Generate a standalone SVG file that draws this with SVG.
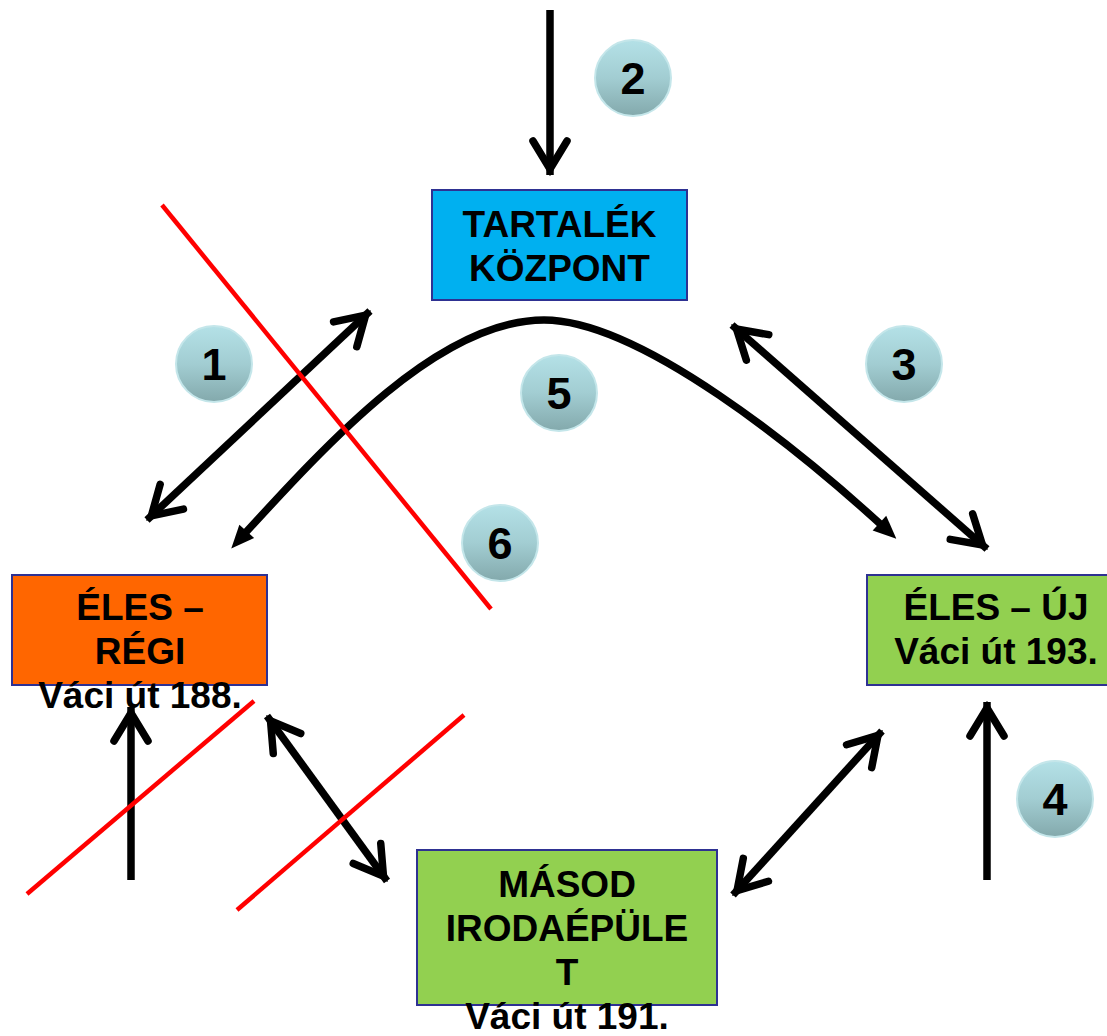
<svg xmlns="http://www.w3.org/2000/svg" width="1107" height="1036" viewBox="0 0 1107 1036">
  <style>
    .box { stroke: #2E3192; stroke-width: 2; }
    .lbl { font-family: "Liberation Sans", Arial, sans-serif; font-weight: bold; font-size: 37px; fill: #000; text-anchor: middle; }
    .num { font-family: "Liberation Sans", Arial, sans-serif; font-weight: bold; font-size: 45px; fill: #000; text-anchor: middle; }
    .badge { fill: url(#badgeFill); stroke: #C4E6EA; stroke-width: 2; }
    .link { fill: none; stroke: #000; stroke-width: 7.5; }
    .cross { stroke: #FF0000; stroke-width: 4.5; }
  </style>
  <defs>
    <linearGradient id="badgeFill" x1="0" y1="0" x2="0" y2="1">
      <stop offset="0" stop-color="#B4E1E7"/>
      <stop offset="0.5" stop-color="#A2CDD2"/>
      <stop offset="1" stop-color="#83A9AC"/>
    </linearGradient>
    <!-- open V head drawn with a stroke -->
    <marker id="open" markerUnits="userSpaceOnUse" viewBox="-40 -25 50 50" markerWidth="50" markerHeight="50" refX="0" refY="0" orient="auto-start-reverse" overflow="visible">
      <path d="M-34,-17 L-6,0 L-34,17" fill="none" stroke="#000" stroke-width="7.5" stroke-linecap="round" stroke-linejoin="miter"/>
    </marker>
    <!-- filled triangle head -->
    <marker id="tri" markerUnits="userSpaceOnUse" viewBox="-20 -15 35 30" markerWidth="35" markerHeight="30" refX="0" refY="0" orient="auto-start-reverse" overflow="visible">
      <path d="M10,0 L-13,-10 L-13,10 Z" fill="#000"/>
    </marker>
  </defs>

  <!-- sites -->
  <g id="node-tartalek">
    <rect class="box" x="432" y="190" width="255" height="110" fill="#00B0F0"/>
    <text class="lbl" x="559.5" y="237">TARTALÉK</text>
    <text class="lbl" x="559.5" y="281">KÖZPONT</text>
  </g>
  <g id="node-eles-regi">
    <rect class="box" x="12" y="575" width="255" height="110" fill="#FF6600"/>
    <text class="lbl" x="140" y="620">ÉLES –</text>
    <text class="lbl" x="140" y="664">RÉGI</text>
    <text class="lbl" x="140" y="708">Váci út 188.</text>
  </g>
  <g id="node-eles-uj">
    <rect class="box" x="867" y="575" width="262" height="110" fill="#92D050"/>
    <text class="lbl" x="996" y="620">ÉLES – ÚJ</text>
    <text class="lbl" x="996" y="664">Váci út 193.</text>
  </g>
  <g id="node-masod">
    <rect class="box" x="417" y="850" width="300" height="155" fill="#92D050"/>
    <text class="lbl" x="567" y="897">MÁSOD</text>
    <text class="lbl" x="567" y="941">IRODAÉPÜLE</text>
    <text class="lbl" x="567" y="985">T</text>
    <text class="lbl" x="567" y="1029">Váci út 191.</text>
  </g>

  <!-- links between sites -->
  <g id="connectors">
    <line class="link" x1="147" y1="520" x2="370" y2="311" marker-start="url(#open)" marker-end="url(#open)"/>
    <line class="link" x1="550" y1="10" x2="550" y2="175" marker-end="url(#open)"/>
    <line class="link" x1="732" y1="325" x2="987" y2="549" marker-start="url(#open)" marker-end="url(#open)"/>
    <path class="link" d="M238,541 C330,440 440,320 544,320 C640,320 800,450 889,532" marker-start="url(#tri)" marker-end="url(#tri)"/>
    <line class="link" x1="131" y1="880" x2="131" y2="707" marker-end="url(#open)"/>
    <line class="link" x1="267" y1="716" x2="387" y2="881" marker-start="url(#open)" marker-end="url(#open)"/>
    <line class="link" x1="733" y1="895" x2="882" y2="731" marker-start="url(#open)" marker-end="url(#open)"/>
    <line class="link" x1="987" y1="880" x2="987" y2="702" marker-end="url(#open)"/>
  </g>

  <!-- struck-out paths -->
  <g id="crossings">
    <line class="cross" x1="162" y1="205" x2="491" y2="609"/>
    <line class="cross" x1="27" y1="894" x2="254" y2="701"/>
    <line class="cross" x1="237" y1="910" x2="464" y2="715"/>
  </g>

  <!-- numbered badges -->
  <g id="badge-1"><circle class="badge" cx="214" cy="364" r="38"/><text class="num" x="214" y="380">1</text></g>
  <g id="badge-2"><circle class="badge" cx="633" cy="78" r="38"/><text class="num" x="633" y="94">2</text></g>
  <g id="badge-3"><circle class="badge" cx="904" cy="364" r="38"/><text class="num" x="904" y="380">3</text></g>
  <g id="badge-4"><circle class="badge" cx="1055" cy="799" r="38"/><text class="num" x="1055" y="815">4</text></g>
  <g id="badge-5"><circle class="badge" cx="559" cy="393" r="38"/><text class="num" x="559" y="409">5</text></g>
  <g id="badge-6"><circle class="badge" cx="500" cy="543" r="38"/><text class="num" x="500" y="559">6</text></g>
</svg>
